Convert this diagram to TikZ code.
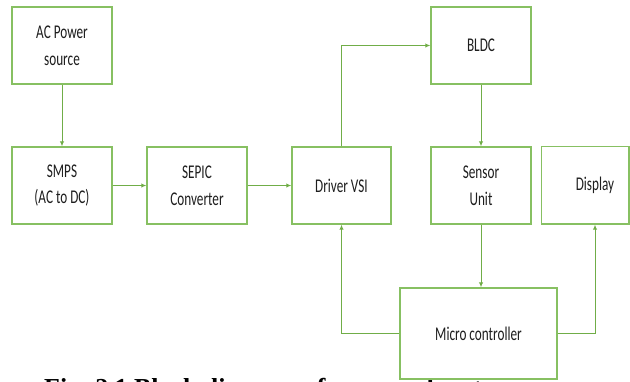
\documentclass[tikz,border=0pt]{standalone}
\usepackage{fontspec}
\setmainfont{Carlito}[FakeStretch=0.68]
\newfontfamily\capfont{Liberation Serif}
\usetikzlibrary{arrows.meta}
\definecolor{boxgreen}{RGB}{135,192,98}
\definecolor{linegreen}{RGB}{112,173,71}
\definecolor{txt}{RGB}{30,30,30}
\begin{document}
\begin{tikzpicture}[x=1bp,y=-1bp,
  blk/.style={draw=boxgreen, line width=1.4bp, fill=white, minimum width=100bp, minimum height=77bp,
    align=center, inner sep=0pt, text=txt, font=\fontsize{19.5}{27}\selectfont},
  conn/.style={draw=linegreen, line width=1bp},
  arr/.style={conn, -{Latex[length=5bp,width=4.5bp]}}]
\useasboundingbox (0,0) rectangle (630,381);
% caption (mostly cut off at the bottom)
\node[anchor=base west, inner sep=0pt, font=\capfont\bfseries\fontsize{26}{30}\selectfont] (cap) at (44,396) {Fig. 2.1 Block diagram of proposed system};
% blocks
\node[blk] (ac) at (62,45.5) {AC Power\\source};
\node[blk] (smps) at (62,185.5) {SMPS\\(AC to DC)};
\node[blk] (sepic) at (197,185.5) {SEPIC\\Converter};
\node[blk, minimum width=99bp] (drv) at (341.5,185.5) {Driver VSI};
\node[blk] (bldc) at (481,45.5) {BLDC};
\node[blk] (sensor) at (481,185.5) {Sensor\\Unit};
\node[blk, draw=none, fill=none, minimum width=106bp] (display) at (595,185.5) {Display};
\draw[draw=boxgreen, line width=1.4bp] (display.north west) rectangle (629,224);
\node[blk, minimum width=157bp, minimum height=91bp] (micro) at (478.5,333.5) {Micro controller};
% connectors
\draw[arr] (ac) -- (smps);
\draw[arr] (smps) -- (sepic);
\draw[arr] (sepic) -- (drv);
\draw[arr] (drv.north) |- (bldc.west);
\draw[arr] (bldc) -- (sensor);
\draw[arr] (sensor.south) -- (sensor.south |- micro.north);
\draw[arr] (micro.west) -| (drv.south);
\draw[arr] (micro.east) -| (display.south);
\end{tikzpicture}
\end{document}
